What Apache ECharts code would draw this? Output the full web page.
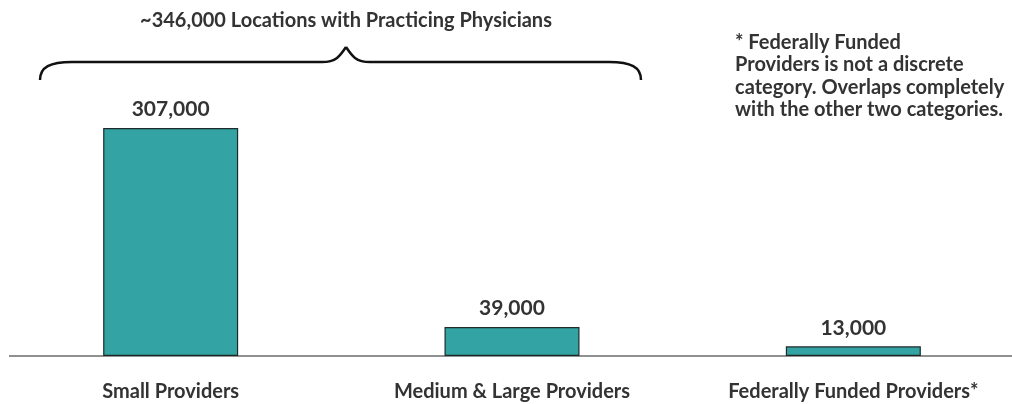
<!DOCTYPE html>
<html>
<head>
<meta charset="utf-8">
<script src="https://cdn.jsdelivr.net/npm/echarts@6/dist/echarts.min.js"></script>
<style>
html,body{margin:0;padding:0;background:#fff;overflow:hidden;}
#c{width:1024px;height:404px;}
</style>
</head>
<body>
<div id="c"></div>
<script>
const categories = ['Small Providers', 'Medium & Large Providers', 'Federally Funded Providers*'];
const values = [307000, 39000, 13000];
const braceTitle = '~346,000 Locations with Practicing Physicians';
const noteLines = ['* Federally Funded', 'Providers is not a discrete', 'category. Overlaps completely', 'with the other two categories.'];

const FONT = 'Lato, "Open Sans", sans-serif';
const TXT = '#333333';
const chart = echarts.init(document.getElementById('c'), null, {renderer: 'canvas'});

function fmt(v) { return v.toLocaleString('en-US'); }

chart.setOption({
  animation: false,
  backgroundColor: '#ffffff',
  grid: {left: 0, right: 0, top: 128, bottom: 48, containLabel: false},
  xAxis: {
    type: 'category',
    data: categories,
    axisLine: {show: false},
    axisTick: {show: false},
    axisLabel: {
      interval: 0, margin: 26, color: TXT,
      fontFamily: FONT, fontWeight: 'bold', fontSize: 20
    }
  },
  yAxis: {
    type: 'value', min: 0, max: 307000,
    show: false, splitLine: {show: false}
  },
  series: [{
    type: 'bar',
    data: values,
    barWidth: 135,
    itemStyle: {color: '#33A3A3', borderColor: '#1f2a2a', borderWidth: 1.2},
    label: {
      show: true, position: 'top', distance: 8,
      color: TXT, fontFamily: FONT, fontWeight: 'bold', fontSize: 21,
      formatter: p => fmt(p.value)
    }
  }]
});

const y0 = chart.convertToPixel({yAxisIndex: 0}, 0);
const braceStyle = {fill: 'none', stroke: '#111', lineWidth: 2.5};
chart.setOption({
  graphic: [
    {type: 'line', shape: {x1: 9, y1: y0, x2: 1012, y2: y0}, style: {stroke: '#222', lineWidth: 1.2}, z: 10},
    {type: 'bezierCurve', shape: {x1: 40, y1: 80, cpx1: 40, cpy1: 67, cpx2: 50, cpy2: 62, x2: 72, y2: 62}, style: braceStyle},
    {type: 'line', shape: {x1: 72, y1: 62, x2: 322, y2: 62}, style: braceStyle},
    {type: 'bezierCurve', shape: {x1: 322, y1: 62, cpx1: 336, cpy1: 62, cpx2: 340, cpy2: 56, x2: 346, y2: 47}, style: braceStyle},
    {type: 'bezierCurve', shape: {x1: 346, y1: 47, cpx1: 352, cpy1: 56, cpx2: 356, cpy2: 62, x2: 370, y2: 62}, style: braceStyle},
    {type: 'line', shape: {x1: 370, y1: 62, x2: 609, y2: 62}, style: braceStyle},
    {type: 'bezierCurve', shape: {x1: 609, y1: 62, cpx1: 631, cpy1: 62, cpx2: 641, cpy2: 67, x2: 641, y2: 80}, style: braceStyle},
    {type: 'text', x: 346, y: 21, style: {text: braceTitle, fill: TXT, font: 'bold 20px ' + FONT, textAlign: 'center', textVerticalAlign: 'middle'}},
    {type: 'text', x: 735, y: 31, style: {text: noteLines.join('\n'), fill: TXT, font: 'bold 20px ' + FONT, lineHeight: 22.5, textAlign: 'left', textVerticalAlign: 'top'}}
  ]
});
</script>
</body>
</html>
